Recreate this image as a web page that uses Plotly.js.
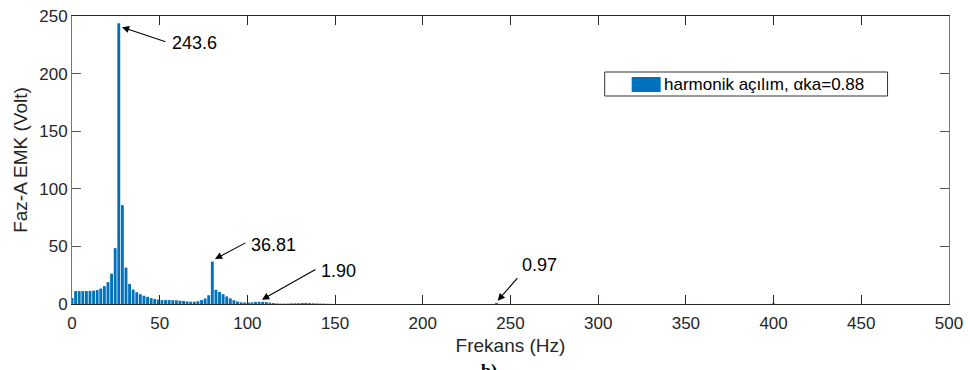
<!DOCTYPE html>
<html>
<head>
<meta charset="utf-8">
<script src="https://cdn.plot.ly/plotly-3.0.1.min.js"></script>
<style>html,body{margin:0;padding:0;background:#fff;}#chart{width:970px;height:370px;}</style>
</head>
<body>
<div id="chart"></div>
<script>
// Frequency bins (Hz) and phase-A EMF amplitudes (Volt)
var freqs = [0, 2.05, 4.10, 6.15, 8.21, 10.26, 12.31, 14.36, 16.41, 18.46,
  20.51, 22.56, 24.62, 26.67, 28.72, 30.77, 32.82, 34.87, 36.92, 38.97,
  41.03, 43.08, 45.13, 47.18, 49.23, 51.28, 53.33, 55.38, 57.44, 59.49,
  61.54, 63.59, 65.64, 67.69, 69.74, 71.79, 73.85, 75.90, 77.95, 80.00,
  82.05, 84.10, 86.15, 88.21, 90.26, 92.31, 94.36, 96.41, 98.46, 100.51,
  102.56, 104.62, 106.67, 108.72, 110.77, 112.82, 114.87, 116.92, 118.97, 121.03,
  123.08, 125.13, 127.18, 129.23, 131.28, 133.33, 135.38, 137.44, 139.49, 141.54,
  143.59, 145.64, 147.69, 242.05, 400.00];
var emf = [5.2, 11.2, 11.2, 11.2, 11.3, 11.4, 11.6, 12.1, 13.4, 15.5,
  19.0, 26.3, 48.5, 243.6, 85.8, 31.6, 17.4, 12.5, 10.2, 8.5,
  7.2, 6.2, 5.1, 4.3, 3.8, 3.4, 3.4, 3.4, 3.3, 3.2,
  2.9, 2.6, 2.2, 2.0, 2.0, 2.4, 3.4, 4.8, 7.6, 36.81,
  12.4, 10.5, 8.5, 6.6, 4.9, 3.3, 2.2, 1.5, 1.3, 1.3,
  1.4, 1.8, 1.9, 1.90, 1.7, 1.2, 0.8, 0.5, 0.3, 0.3,
  0.4, 0.5, 0.6, 0.7, 0.9, 1.0, 0.8, 0.6, 0.5, 0.4,
  0.3, 0.2, 0.1, 0.97, 0.6];

var seriesName = 'harmonik açılım, αka=0.88';
var xTicks = [0, 50, 100, 150, 200, 250, 300, 350, 400, 450, 500];
var yTicks = [0, 50, 100, 150, 200, 250];

// Labelled peaks: label, frequency of arrow tip, value of arrow tip
var peakLabels = ['243.6', '36.81', '1.90', '0.97'];
var peakTipX = [28.5, 81.5, 108.3, 242.7];
var peakTipY = [240.3, 39.0, 3.7, 2.9];

var W = 970, H = 370;
var M = {l: 72, r: 20.5, t: 16, b: 66};
var pw = W - M.l - M.r, ph = H - M.t - M.b;
function px(x) { return (x - M.l) / pw; }
function py(y) { return (H - M.b - y) / ph; }

var font = 'Arial, "Liberation Sans", Helvetica, sans-serif';

// arrow tails (pixel offsets from tip) and label centers (paper px)
var tailOff = [[45, 15], [32, -17], [55, -31], [21, -24]];
var labelPos = [[195, 43], [273.5, 245], [338.5, 271], [540, 265]];

var annotations = [];
for (var i = 0; i < peakLabels.length; i++) {
  annotations.push({
    x: peakTipX[i], y: peakTipY[i], xref: 'x', yref: 'y',
    ax: tailOff[i][0], ay: tailOff[i][1], text: '', showarrow: true,
    arrowhead: 2, arrowsize: 1.3, arrowwidth: 1.1, arrowcolor: '#000', standoff: 0
  });
  annotations.push({
    x: px(labelPos[i][0]), y: py(labelPos[i][1]), xref: 'paper', yref: 'paper',
    text: peakLabels[i], showarrow: false, xanchor: 'center', yanchor: 'middle',
    font: {family: font, size: 18, color: '#000'}
  });
}
// legend text
annotations.push({
  x: px(662), y: py(84.5), xref: 'paper', yref: 'paper', text: seriesName,
  showarrow: false, xanchor: 'left', yanchor: 'middle',
  font: {family: font, size: 17, color: '#000'}
});
// caption (cut off at bottom, as in the reference)
annotations.push({
  x: px(489), y: py(359), xref: 'paper', yref: 'paper', text: '<b>b)</b>',
  showarrow: false, xanchor: 'center', yanchor: 'top',
  font: {family: '"Liberation Serif", "Times New Roman", serif', size: 18, color: '#000'}
});

var shapes = [
  {type: 'rect', xref: 'paper', yref: 'paper', x0: px(605), x1: px(888), y0: py(96), y1: py(72),
   line: {color: '#333', width: 1}, fillcolor: '#fff', layer: 'above'},
  {type: 'rect', xref: 'paper', yref: 'paper', x0: px(632), x1: px(661), y0: py(92), y1: py(77),
   line: {width: 0}, fillcolor: '#0072BD', layer: 'above'}
];

var trace = {
  type: 'bar', x: freqs, y: emf, name: seriesName,
  marker: {color: '#0072BD', line: {width: 0}},
  showlegend: false, hoverinfo: 'x+y'
};

var layout = {
  width: W, height: H,
  margin: M,
  paper_bgcolor: '#fff', plot_bgcolor: '#fff',
  bargap: 0.2,
  font: {family: font, color: '#262626'},
  xaxis: {
    range: [0, 500], tickvals: xTicks, ticktext: xTicks.map(String),
    ticks: 'inside', ticklen: 9, tickwidth: 1, tickcolor: '#262626',
    showline: true, linecolor: '#262626', linewidth: 1, mirror: 'allticks',
    showgrid: false, zeroline: false, ticklabelstandoff: 4,
    tickfont: {family: font, size: 17, color: '#262626'},
    title: {text: 'Frekans (Hz)', font: {family: font, size: 19, color: '#262626'}, standoff: 6}
  },
  yaxis: {
    range: [0, 250], tickvals: yTicks, ticktext: yTicks.map(String),
    ticks: 'inside', ticklen: 9, tickwidth: 1, tickcolor: '#555',
    showline: true, linecolor: '#777', linewidth: 1, mirror: 'allticks',
    showgrid: false, zeroline: false,
    tickfont: {family: font, size: 17, color: '#262626'},
    title: {text: 'Faz-A EMK (Volt)', font: {family: font, size: 19, color: '#262626'}, standoff: 6}
  },
  annotations: annotations,
  shapes: shapes
};

Plotly.newPlot('chart', [trace], layout, {displayModeBar: false, staticPlot: true});
</script>
</body>
</html>
